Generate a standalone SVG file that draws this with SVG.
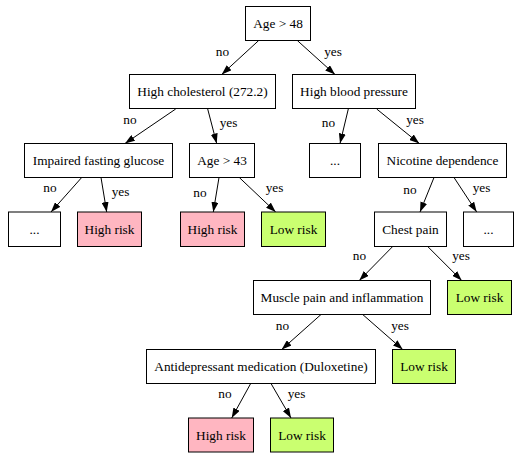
<svg xmlns="http://www.w3.org/2000/svg" width="515" height="454" viewBox="0 0 515 454" font-family="'Liberation Serif', 'DejaVu Serif', 'Times New Roman', serif">
<style>
rect{stroke:#000;stroke-width:1;fill:#fff}
rect.hi{fill:#ffb6c1}
rect.lo{fill:#caff70}
text{font-family:'Liberation Serif','DejaVu Serif','Times New Roman',serif;font-size:13.3px;fill:#000;text-anchor:middle}
.e line{stroke:#000;stroke-width:1;marker-end:url(#ah)}
</style>
<defs>
<marker id="ah" markerWidth="10" markerHeight="7" refX="10" refY="3.5" orient="auto" markerUnits="userSpaceOnUse">
<path d="M0,0 L10,3.5 L0,7 z" fill="#000"/>
</marker>
</defs>
<g class="e" id="connectors">
<line x1="258.7" y1="40.5" x2="221.7" y2="74.5"/>
<line x1="297.3" y1="40.5" x2="335" y2="74.5"/>
<line x1="175.7" y1="109" x2="125" y2="143.5"/>
<line x1="207.7" y1="109" x2="216.7" y2="143.5"/>
<line x1="348.3" y1="109" x2="340" y2="143.5"/>
<line x1="376.7" y1="109" x2="419.3" y2="143.5"/>
<line x1="81.7" y1="177.5" x2="51" y2="212"/>
<line x1="101" y1="177.5" x2="106.7" y2="212"/>
<line x1="219" y1="177.5" x2="213.3" y2="212"/>
<line x1="239.3" y1="177.5" x2="275.7" y2="212"/>
<line x1="434" y1="177.5" x2="420" y2="212"/>
<line x1="454" y1="177.5" x2="476.7" y2="212"/>
<line x1="392.7" y1="246.5" x2="359.3" y2="280.5"/>
<line x1="427.7" y1="246.5" x2="461.7" y2="280.5"/>
<line x1="321" y1="314.5" x2="281.7" y2="349.5"/>
<line x1="362.7" y1="314.5" x2="402.7" y2="349.5"/>
<line x1="250.7" y1="383.5" x2="231.7" y2="418"/>
<line x1="271" y1="383.5" x2="291" y2="418"/>
<text x="222.5" y="56">no</text>
<text x="333" y="56">yes</text>
<text x="130" y="124">no</text>
<text x="228.5" y="127">yes</text>
<text x="328.5" y="127">no</text>
<text x="415" y="124">yes</text>
<text x="50" y="192">no</text>
<text x="120.5" y="196">yes</text>
<text x="200" y="197">no</text>
<text x="274.5" y="192">yes</text>
<text x="410" y="194">no</text>
<text x="481.5" y="192">yes</text>
<text x="359.5" y="260">no</text>
<text x="461" y="260">yes</text>
<text x="282.5" y="329.5">no</text>
<text x="400" y="329.5">yes</text>
<text x="225" y="398">no</text>
<text x="296.5" y="398">yes</text>
</g>
<g id="n_age48"><rect x="245.5" y="6.5" width="65" height="34"/><text x="278" y="28">Age &gt; 48</text></g>
<g id="n_chol"><rect x="129.5" y="74.5" width="146" height="34"/><text x="202.5" y="96">High cholesterol (272.2)</text></g>
<g id="n_bp"><rect x="292.5" y="74.5" width="123" height="34"/><text x="354" y="96">High blood pressure</text></g>
<g id="n_ifg"><rect x="24.5" y="143.5" width="148" height="34"/><text x="98.5" y="165">Impaired fasting glucose</text></g>
<g id="n_age43"><rect x="189.5" y="143.5" width="65" height="34"/><text x="222" y="165">Age &gt; 43</text></g>
<g id="n_dots1"><rect x="309.5" y="143.5" width="51" height="34"/><text x="335" y="165">...</text></g>
<g id="n_nic"><rect x="378.5" y="143.5" width="128" height="34"/><text x="442.5" y="165">Nicotine dependence</text></g>
<g id="n_dots2"><rect x="8.5" y="212" width="52" height="34.5"/><text x="34.5" y="233.5">...</text></g>
<g id="n_hr1"><rect class="hi" x="77.5" y="212" width="64" height="34.5"/><text x="109.5" y="233.5">High risk</text></g>
<g id="n_hr2"><rect class="hi" x="180.5" y="212" width="64" height="34.5"/><text x="212.5" y="233.5">High risk</text></g>
<g id="n_lr1"><rect class="lo" x="261.5" y="212" width="64" height="34.5"/><text x="293.5" y="233.5">Low risk</text></g>
<g id="n_chest"><rect x="374.5" y="212" width="72" height="34.5"/><text x="410.5" y="233.5">Chest pain</text></g>
<g id="n_dots3"><rect x="463.5" y="212" width="50" height="34.5"/><text x="488.5" y="233.5">...</text></g>
<g id="n_muscle"><rect x="253.5" y="280.5" width="177" height="34"/><text x="342" y="302">Muscle pain and inflammation</text></g>
<g id="n_lr2"><rect class="lo" x="447.5" y="280.5" width="64" height="34"/><text x="479.5" y="302">Low risk</text></g>
<g id="n_anti"><rect x="146.5" y="349.5" width="229" height="34"/><text x="261" y="371">Antidepressant medication (Duloxetine)</text></g>
<g id="n_lr3"><rect class="lo" x="392.5" y="349.5" width="63" height="34"/><text x="424" y="371">Low risk</text></g>
<g id="n_hr3"><rect class="hi" x="188.5" y="418" width="65" height="34"/><text x="221" y="439.5">High risk</text></g>
<g id="n_lr4"><rect class="lo" x="270.5" y="418" width="63" height="34"/><text x="302" y="439.5">Low risk</text></g>
</svg>
